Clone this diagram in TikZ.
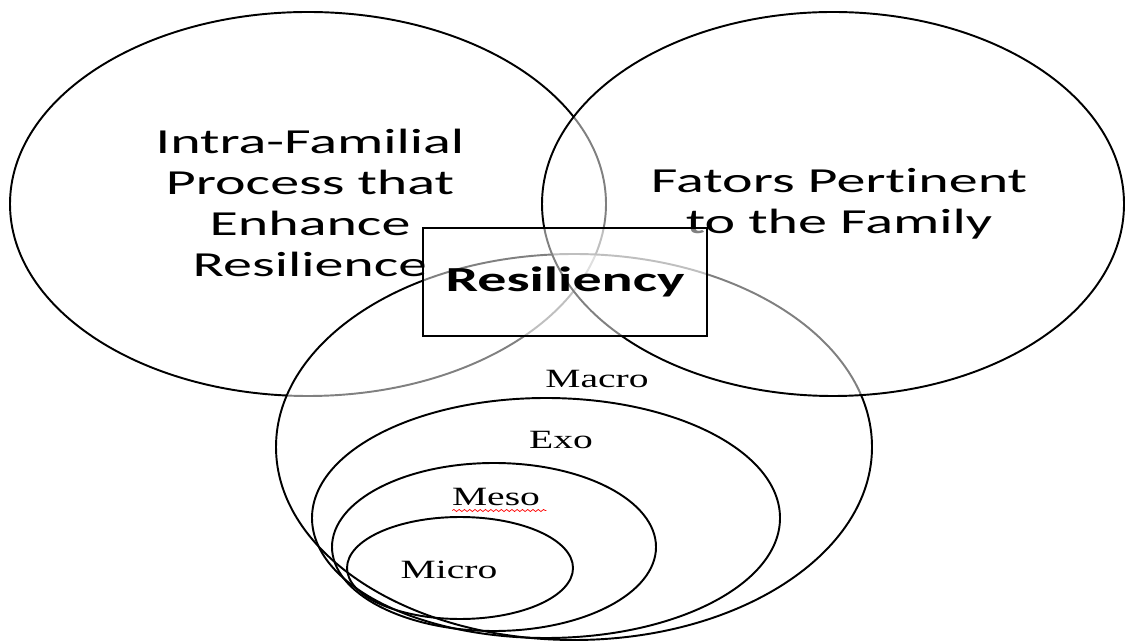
\documentclass[tikz,border=0pt]{standalone}
\usepackage{fontspec}
\setmainfont{Carlito}[Ligatures={NoCommon,NoContextual}]
\newfontfamily\ringfont{Liberation Serif}
\usetikzlibrary{shapes.geometric,decorations.pathmorphing}

\tikzset{
  ring/.style = {ellipse, draw, line width=1.1pt, inner sep=0pt},
  veil/.style = {fill=white, fill opacity=0.5, text opacity=1},
  bigtext/.style = {align=center, xscale=1.65, font=\fontsize{20}{23.3}\selectfont},
  ringtext/.style = {xscale=1.5, font=\ringfont\fontsize{15}{17}\selectfont}
}

\begin{document}
\begin{tikzpicture}
        \useasboundingbox (0,0) rectangle (22.5,12.82);

        % the three big circles, each half covering what lies below
        \node [ring, veil, minimum width=11.92cm, minimum height=7.68cm] (intra) at (6.16,8.74) {};
        \node [bigtext] (intratext) at (6.20,8.76) {Intra-Familial\\Process that\\Enhance\\Resilience};
        \node [ring, veil, minimum width=11.92cm, minimum height=7.72cm] (macro) at (11.48,3.88) {};
        \node [ring, veil, minimum width=11.64cm, minimum height=7.68cm] (factors) at (16.66,8.74) {};
        \node [bigtext] (factorstext) at (16.78,8.74) {Fators Pertinent\\to the Family};

        \node [draw, veil, line width=1.1pt, minimum width=5.68cm, minimum height=2.16cm,
               font=\bfseries\fontsize{20}{23}\selectfont] (res) at (11.30,7.18)
               {\scalebox{1.65}[1]{Resiliency}};

        % nested systems
        \node [ring, minimum width=9.36cm, minimum height=4.8cm] (exo) at (10.92,2.46) {};
        \node [ring, minimum width=6.48cm, minimum height=3.36cm] (meso) at (9.88,1.88) {};
        \node [ring, minimum width=4.52cm, minimum height=2.04cm] (micro) at (9.20,1.46) {};

        \node [ringtext] (macrotext) at (11.94,5.24) {Macro};
        \node [ringtext] (exotext) at (11.22,4.02) {Exo};
        \node [ringtext] (mesotext) at (9.92,2.88) {Meso};
        \node [ringtext] (microtext) at (8.98,1.42) {Micro};

        \draw [red, line width=0.4pt, decorate, decoration={snake, amplitude=0.6pt, segment length=3pt}]
        ([xshift=0.19cm, yshift=-0.1cm]mesotext.base west) -- ([xshift=-0.06cm, yshift=-0.1cm]mesotext.base east);
    \end{tikzpicture}
\end{document}
